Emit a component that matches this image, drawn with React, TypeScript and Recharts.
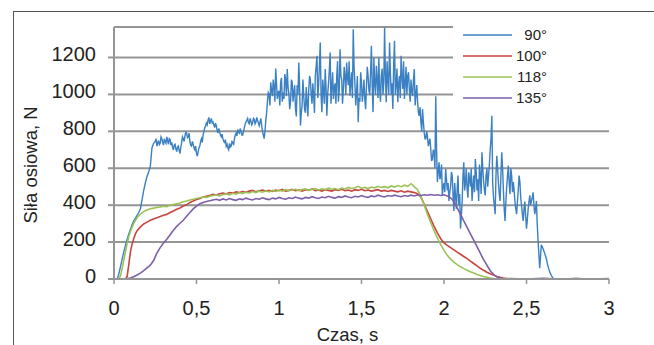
import React from 'react';
import { LineChart, Line, XAxis, YAxis, CartesianGrid, Legend } from 'recharts';

const FONT = '"Liberation Sans", Arial, sans-serif';

const xTicks = [0, 0.5, 1, 1.5, 2, 2.5, 3];
const yTicks = [0, 200, 400, 600, 800, 1000, 1200];
const seriesNames = ['90°', '100°', '118°', '135°'];
const seriesColors = ['#3a80c3', '#c9433f', '#9cc255', '#7d60a8'];

// 90° — time [s], axial force [N], read at 0.01 s
const blue90: [number, number][] = [
  [0, 0], [0.01, 0], [0.02, 0], [0.03, 30], [0.04, 70], [0.05, 110], [0.06, 150], [0.07, 185], [0.08, 215], [0.09, 245],
  [0.1, 270], [0.11, 295], [0.12, 315], [0.13, 330], [0.14, 345], [0.15, 360], [0.16, 380], [0.17, 430], [0.18, 480], [0.19, 520],
  [0.2, 555], [0.21, 580], [0.22, 610], [0.23, 710], [0.24, 735], [0.25, 745], [0.26, 720], [0.27, 750], [0.28, 735], [0.29, 760],
  [0.3, 725], [0.31, 745], [0.32, 770], [0.33, 730], [0.34, 755], [0.35, 740], [0.36, 700], [0.37, 730], [0.38, 690], [0.39, 720],
  [0.4, 680], [0.41, 740], [0.42, 760], [0.43, 775], [0.44, 790], [0.45, 770], [0.46, 745], [0.47, 720], [0.48, 730], [0.49, 700],
  [0.5, 680], [0.51, 690], [0.52, 720], [0.53, 760], [0.54, 780], [0.55, 820], [0.56, 845], [0.57, 860], [0.58, 840], [0.59, 870],
  [0.6, 850], [0.61, 820], [0.62, 830], [0.63, 790], [0.64, 800], [0.65, 770], [0.66, 760], [0.67, 740], [0.68, 720], [0.69, 710],
  [0.7, 735], [0.71, 720], [0.72, 740], [0.73, 760], [0.74, 790], [0.75, 810], [0.76, 790], [0.77, 800], [0.78, 780], [0.79, 820],
  [0.8, 850], [0.81, 870], [0.82, 840], [0.83, 855], [0.84, 845], [0.85, 865], [0.86, 850], [0.87, 860], [0.88, 830], [0.89, 870],
  [0.9, 800], [0.91, 760], [0.92, 860], [0.93, 960], [0.94, 1000], [0.95, 1066], [0.96, 990], [0.97, 1040], [0.98, 1140], [0.99, 975],
  [1.0, 1020], [1.01, 1066], [1.02, 960], [1.03, 975], [1.04, 1080], [1.05, 1137], [1.06, 1000], [1.07, 960], [1.08, 1066], [1.09, 1010],
  [1.1, 921], [1.11, 1050], [1.12, 1173], [1.13, 831], [1.14, 940], [1.15, 993], [1.16, 900], [1.17, 958], [1.18, 1020], [1.19, 1083],
  [1.2, 950], [1.21, 993], [1.22, 1100], [1.23, 1209], [1.24, 1050], [1.25, 1281], [1.26, 904], [1.27, 1020], [1.28, 1137], [1.29, 884],
  [1.3, 1060], [1.31, 1227], [1.32, 1040], [1.33, 975], [1.34, 1060], [1.35, 1101], [1.36, 960], [1.37, 1245], [1.38, 1080], [1.39, 1029],
  [1.4, 1100], [1.41, 1173], [1.42, 1050], [1.43, 993], [1.44, 1120], [1.45, 1353], [1.46, 1060], [1.47, 1011], [1.48, 849], [1.49, 960],
  [1.5, 1066], [1.51, 1010], [1.52, 975], [1.53, 1040], [1.54, 1101], [1.55, 1000], [1.56, 1263], [1.57, 904], [1.58, 1060], [1.59, 1155],
  [1.6, 980], [1.61, 1029], [1.62, 1100], [1.63, 1000], [1.64, 1362], [1.65, 958], [1.66, 1080], [1.67, 1281], [1.68, 1000], [1.69, 921],
  [1.7, 1290], [1.71, 1050], [1.72, 958], [1.73, 1100], [1.74, 1209], [1.75, 1030], [1.76, 975], [1.77, 1150], [1.78, 1100], [1.79, 1028],
  [1.8, 1080], [1.81, 990], [1.82, 1137], [1.83, 1000], [1.84, 958], [1.85, 884], [1.86, 850], [1.87, 920], [1.88, 794], [1.89, 760],
  [1.9, 770], [1.91, 741], [1.92, 700], [1.93, 650], [1.94, 687], [1.95, 990], [1.96, 525], [1.97, 632], [1.98, 560], [1.99, 453],
  [2.0, 520], [2.01, 596], [2.02, 480], [2.03, 423], [2.04, 500], [2.05, 560], [2.06, 369], [2.07, 450], [2.08, 489], [2.09, 400],
  [2.1, 273], [2.11, 420], [2.12, 632], [2.13, 520], [2.14, 489], [2.15, 578], [2.16, 500], [2.17, 423], [2.18, 560], [2.19, 650],
  [2.2, 480], [2.21, 423], [2.22, 560], [2.23, 687], [2.24, 530], [2.25, 453], [2.26, 600], [2.27, 560], [2.28, 700], [2.29, 884],
  [2.3, 440], [2.31, 351], [2.32, 668], [2.33, 520], [2.34, 423], [2.35, 687], [2.36, 480], [2.37, 315], [2.38, 500], [2.39, 614],
  [2.4, 460], [2.41, 560], [2.42, 525], [2.43, 420], [2.44, 351], [2.45, 480], [2.46, 525], [2.47, 400], [2.48, 315], [2.49, 420],
  [2.5, 273], [2.51, 380], [2.52, 453], [2.53, 423], [2.54, 470], [2.55, 351], [2.56, 423], [2.57, 210], [2.58, 59], [2.59, 185],
  [2.6, 165], [2.61, 140], [2.62, 110], [2.63, 70], [2.64, 40], [2.65, 20], [2.66, 5], [2.67, 0], [2.7, 2], [2.75, 0],
  [2.8, 3], [2.85, 0], [2.9, 2], [2.95, 0], [3.0, 0],
];

// 90° — extra readings between the 0.01 s samples (the noisy parts)
const blue90Extra: [number, number][] = [
  [0.255, 760], [0.265, 735], [0.275, 728], [0.285, 770], [0.295, 740], [0.305, 760], [0.315, 735], [0.325, 750], [0.335, 760], [0.345, 725],
  [0.355, 715], [0.365, 725], [0.375, 705], [0.385, 715], [0.395, 695], [0.405, 715], [0.415, 770], [0.425, 745], [0.435, 795], [0.445, 765],
  [0.455, 790], [0.465, 725], [0.475, 745], [0.485, 710], [0.495, 720], [0.505, 665], [0.515, 710], [0.525, 745], [0.535, 740], [0.545, 800],
  [0.555, 830], [0.565, 835], [0.575, 875], [0.585, 855], [0.595, 845], [0.605, 835], [0.615, 845], [0.625, 805], [0.635, 815], [0.645, 780],
  [0.655, 785], [0.665, 745], [0.675, 755], [0.685, 730], [0.695, 700], [0.705, 715], [0.715, 745], [0.725, 725], [0.735, 780], [0.745, 775],
  [0.755, 795], [0.765, 815], [0.775, 780], [0.785, 800], [0.795, 840], [0.805, 860], [0.815, 845], [0.825, 870], [0.835, 835], [0.845, 870],
  [0.855, 840], [0.865, 875], [0.875, 845], [0.885, 850], [0.895, 830], [0.905, 780], [0.915, 800],
  [0.925, 900], [0.935, 1010], [0.945, 940], [0.955, 1020], [0.965, 1080], [0.975, 960], [0.985, 1060], [0.995, 1010],
  [1.005, 940], [1.015, 1090], [1.025, 1010], [1.035, 1110], [1.045, 990], [1.055, 1040], [1.065, 920], [1.075, 1080], [1.085, 960], [1.095, 1050],
  [1.105, 880], [1.115, 1000], [1.125, 1040], [1.135, 900], [1.145, 1080], [1.155, 920], [1.165, 1040], [1.175, 880], [1.185, 1100], [1.195, 1000],
  [1.205, 1060], [1.215, 900], [1.225, 1150], [1.235, 980], [1.245, 1160], [1.255, 1000], [1.265, 1080], [1.275, 950], [1.285, 1040], [1.295, 1000],
  [1.305, 1130], [1.315, 950], [1.325, 1120], [1.335, 1040], [1.345, 950], [1.355, 1180], [1.365, 1020], [1.375, 1100], [1.385, 950], [1.395, 1150],
  [1.405, 1000], [1.415, 1090], [1.425, 1180], [1.435, 1060], [1.445, 980], [1.455, 1150], [1.465, 940], [1.475, 1100], [1.485, 980], [1.495, 1120],
  [1.505, 960], [1.515, 1080], [1.525, 920], [1.535, 1150], [1.545, 1020], [1.555, 1120], [1.565, 1040], [1.575, 1200], [1.585, 1000], [1.595, 1080],
  [1.605, 1200], [1.615, 960], [1.625, 1140], [1.635, 1060], [1.645, 1100], [1.655, 1180], [1.665, 1000], [1.675, 1120], [1.685, 1060], [1.695, 1160],
  [1.705, 1000], [1.715, 1140], [1.725, 1060], [1.735, 980], [1.745, 1100], [1.755, 1180], [1.765, 1060], [1.775, 1000], [1.785, 1120], [1.795, 960],
  [1.805, 1020], [1.815, 1080], [1.825, 940], [1.835, 1050], [1.845, 900],
  [1.855, 930], [1.865, 800], [1.875, 850], [1.885, 760], [1.895, 800], [1.905, 720], [1.915, 760], [1.925, 640], [1.935, 700], [1.945, 600],
  [1.955, 700], [1.965, 580], [1.975, 540], [1.985, 620], [1.995, 500], [2.005, 470], [2.015, 540], [2.025, 520], [2.035, 470], [2.045, 580],
  [2.055, 450], [2.065, 520], [2.075, 380], [2.085, 560], [2.095, 460], [2.105, 340], [2.115, 560], [2.125, 480], [2.135, 600], [2.145, 440],
  [2.155, 540], [2.165, 600], [2.175, 500], [2.185, 470], [2.195, 580], [2.205, 540], [2.215, 620], [2.225, 460], [2.235, 600], [2.245, 480],
  [2.255, 560], [2.265, 500], [2.275, 620], [2.285, 760], [2.295, 520], [2.305, 400], [2.315, 560], [2.325, 600], [2.335, 460], [2.345, 560],
  [2.355, 600], [2.365, 380], [2.375, 420], [2.385, 560], [2.395, 520], [2.405, 600], [2.415, 470], [2.425, 480], [2.435, 380], [2.445, 420],
  [2.455, 560], [2.465, 440], [2.475, 350], [2.485, 380], [2.495, 340], [2.505, 320], [2.515, 420], [2.525, 400], [2.535, 440], [2.545, 400],
  [2.555, 380], [2.565, 300],
];

// 100°
const red100: [number, number][] = [
  [0, 0], [0.07, 0], [0.08, 15], [0.09, 80], [0.1, 150], [0.11, 190], [0.12, 220], [0.13, 245], [0.14, 262], [0.16, 282],
  [0.18, 298], [0.2, 308], [0.22, 318], [0.24, 325], [0.26, 332], [0.28, 338], [0.3, 345], [0.32, 350], [0.34, 360], [0.36, 368],
  [0.38, 378], [0.4, 385], [0.42, 395], [0.44, 402], [0.46, 415], [0.48, 422], [0.5, 430], [0.52, 436], [0.54, 444], [0.56, 448],
  [0.58, 452], [0.6, 458], [0.62, 455], [0.64, 462], [0.66, 466], [0.68, 460], [0.7, 468], [0.72, 465], [0.74, 472], [0.76, 468],
  [0.78, 474], [0.8, 470], [0.82, 476], [0.84, 480], [0.86, 472], [0.88, 478], [0.9, 482], [0.92, 476], [0.94, 480], [0.96, 474],
  [0.98, 482], [1.0, 478], [1.02, 485], [1.04, 476], [1.06, 480], [1.08, 486], [1.1, 478], [1.12, 482], [1.14, 476], [1.16, 484],
  [1.18, 480], [1.2, 488], [1.22, 478], [1.24, 482], [1.26, 476], [1.28, 484], [1.3, 480], [1.32, 476], [1.34, 484], [1.36, 480],
  [1.38, 486], [1.4, 478], [1.42, 482], [1.44, 476], [1.46, 484], [1.48, 480], [1.5, 486], [1.52, 478], [1.54, 482], [1.56, 476],
  [1.58, 480], [1.6, 484], [1.62, 476], [1.64, 480], [1.66, 474], [1.68, 480], [1.7, 476], [1.72, 472], [1.74, 478], [1.76, 470],
  [1.78, 476], [1.8, 472], [1.82, 468], [1.84, 462], [1.86, 445], [1.88, 405], [1.9, 365], [1.92, 325], [1.94, 285], [1.96, 250],
  [1.98, 218], [2.0, 196], [2.02, 182], [2.04, 170], [2.06, 158], [2.08, 146], [2.1, 134], [2.12, 122], [2.14, 110], [2.16, 97],
  [2.18, 84], [2.2, 71], [2.22, 58], [2.24, 47], [2.26, 37], [2.28, 28], [2.3, 21], [2.32, 14], [2.34, 9], [2.36, 5],
  [2.38, 3], [2.4, 0], [2.5, 0],
];

// 118°
const green118: [number, number][] = [
  [0, 0], [0.03, 0], [0.04, 20], [0.05, 60], [0.06, 105], [0.07, 150], [0.08, 195], [0.09, 230], [0.1, 258], [0.11, 282],
  [0.12, 302], [0.13, 318], [0.14, 332], [0.16, 352], [0.18, 365], [0.2, 374], [0.22, 381], [0.24, 384], [0.26, 388], [0.28, 390],
  [0.3, 394], [0.32, 392], [0.34, 400], [0.36, 404], [0.38, 408], [0.4, 412], [0.42, 418], [0.44, 422], [0.46, 428], [0.48, 432],
  [0.5, 436], [0.52, 440], [0.54, 444], [0.56, 442], [0.58, 448], [0.6, 452], [0.62, 456], [0.64, 450], [0.66, 458], [0.68, 462],
  [0.7, 456], [0.72, 464], [0.74, 460], [0.76, 468], [0.78, 464], [0.8, 470], [0.82, 466], [0.84, 474], [0.86, 468], [0.88, 476],
  [0.9, 470], [0.92, 478], [0.94, 472], [0.96, 480], [0.98, 474], [1.0, 482], [1.02, 476], [1.04, 484], [1.06, 478], [1.08, 482],
  [1.1, 486], [1.12, 478], [1.14, 484], [1.16, 488], [1.18, 480], [1.2, 486], [1.22, 490], [1.24, 482], [1.26, 488], [1.28, 484],
  [1.3, 492], [1.32, 486], [1.34, 490], [1.36, 484], [1.38, 492], [1.4, 488], [1.42, 496], [1.44, 490], [1.46, 494], [1.48, 502],
  [1.5, 492], [1.52, 496], [1.54, 490], [1.56, 498], [1.58, 494], [1.6, 502], [1.62, 496], [1.64, 500], [1.66, 494], [1.68, 504],
  [1.7, 498], [1.72, 506], [1.74, 500], [1.76, 508], [1.78, 502], [1.8, 516], [1.82, 500], [1.84, 484], [1.86, 448], [1.88, 400],
  [1.9, 350], [1.92, 305], [1.94, 262], [1.96, 222], [1.98, 186], [2.0, 155], [2.02, 128], [2.04, 108], [2.06, 92], [2.08, 78],
  [2.1, 66], [2.12, 56], [2.14, 47], [2.16, 39], [2.18, 32], [2.2, 25], [2.22, 19], [2.24, 13], [2.26, 9], [2.28, 5],
  [2.3, 2], [2.32, 0], [2.4, 0],
];

// 135°
const purple135: [number, number][] = [
  [0, 0], [0.05, 0], [0.08, 2], [0.1, 5], [0.12, 12], [0.14, 22], [0.16, 32], [0.18, 45], [0.2, 60], [0.22, 75],
  [0.24, 100], [0.26, 140], [0.28, 170], [0.3, 195], [0.32, 215], [0.34, 240], [0.36, 264], [0.38, 285], [0.4, 302], [0.42, 318],
  [0.44, 340], [0.46, 360], [0.48, 380], [0.5, 395], [0.52, 408], [0.54, 415], [0.56, 420], [0.58, 424], [0.6, 428], [0.62, 432],
  [0.64, 426], [0.66, 434], [0.68, 428], [0.7, 436], [0.72, 430], [0.74, 426], [0.76, 434], [0.78, 430], [0.8, 438], [0.82, 432],
  [0.84, 428], [0.86, 436], [0.88, 432], [0.9, 440], [0.92, 434], [0.94, 430], [0.96, 438], [0.98, 434], [1.0, 442], [1.02, 436],
  [1.04, 432], [1.06, 440], [1.08, 436], [1.1, 444], [1.12, 438], [1.14, 434], [1.16, 442], [1.18, 438], [1.2, 446], [1.22, 440],
  [1.24, 436], [1.26, 444], [1.28, 440], [1.3, 448], [1.32, 442], [1.34, 438], [1.36, 446], [1.38, 442], [1.4, 450], [1.42, 444],
  [1.44, 440], [1.46, 448], [1.48, 444], [1.5, 452], [1.52, 446], [1.54, 442], [1.56, 450], [1.58, 446], [1.6, 454], [1.62, 448],
  [1.64, 444], [1.66, 452], [1.68, 448], [1.7, 454], [1.72, 450], [1.74, 446], [1.76, 452], [1.78, 448], [1.8, 454], [1.82, 450],
  [1.84, 456], [1.86, 452], [1.88, 456], [1.9, 454], [1.92, 458], [1.94, 454], [1.96, 456], [1.98, 452], [2.0, 456], [2.02, 450],
  [2.04, 440], [2.06, 420], [2.08, 385], [2.1, 350], [2.12, 315], [2.14, 280], [2.16, 245], [2.18, 210], [2.2, 175], [2.22, 140],
  [2.24, 105], [2.26, 75], [2.28, 45], [2.3, 25], [2.32, 12], [2.34, 5], [2.36, 0], [2.4, 3], [2.5, 0], [2.6, 4],
  [2.7, 0], [2.8, 3], [2.9, 0], [3.0, 2],
];

const toRows = (arr: [number, number][]) =>
  [...arr].sort((a, b) => a[0] - b[0]).map(([t, v]) => ({ t, v }));
const seriesData = [[...blue90, ...blue90Extra], red100, green118, purple135].map(toRows);

const fmtX = (v: number) => String(v).replace('.', ',');

const YTick = (props: any) => {
  const { x, y, payload } = props;
  return (
    <text x={x} y={y} dy={4} textAnchor="end" fontSize={20} fill="#222" fontFamily={FONT}>
      {payload.value}
    </text>
  );
};

const XTick = (props: any) => {
  const { x, y, payload } = props;
  return (
    <text x={x} y={y} dy={31} textAnchor="middle" fontSize={20} fill="#222" fontFamily={FONT}>
      {fmtX(payload.value)}
    </text>
  );
};

const LegendBox = (props: any) => {
  const payload = [...(props.payload || [])].sort(
    (a: any, b: any) => seriesNames.indexOf(String(a.value)) - seriesNames.indexOf(String(b.value)),
  );
  return (
    <div style={{ position: 'relative', width: 160, height: 86, background: '#fff' }}>
      {payload.map((p: any, i: number) => (
        <div key={String(p.value)} style={{ position: 'absolute', left: 0, top: 4 + i * 21, width: 100, height: 22 }}>
          <svg width={60} height={22} style={{ position: 'absolute', left: 0, top: 0 }}>
            <line x1={10} x2={59} y1={11} y2={11} stroke={p.color} strokeWidth={1.5} />
          </svg>
          <span
            style={{
              position: 'absolute',
              right: 6,
              top: 0,
              lineHeight: '22px',
              fontSize: 15,
              color: '#222',
              fontFamily: FONT,
            }}
          >
            {p.value}
          </span>
        </div>
      ))}
    </div>
  );
};

const AXIS = '#959595';

export default function App() {
  return (
    <div style={{ position: 'absolute', left: 0, top: 0, width: 654, height: 345, overflow: 'hidden', background: '#fff' }}>
      <div
        style={{
          position: 'absolute',
          left: 13,
          top: 11,
          width: 700,
          height: 400,
          borderTop: '1.5px solid #555',
          borderLeft: '1.5px solid #555',
        }}
      />
      <div style={{ position: 'absolute', left: 0, top: 0 }}>
        <LineChart width={654} height={345} margin={{ top: 27, right: 45, bottom: 16, left: 0 }}>
          <CartesianGrid horizontal vertical={false} stroke={AXIS} strokeWidth={2} />
          <XAxis
            dataKey="t"
            type="number"
            domain={[0, 3]}
            ticks={xTicks}
            height={50}
            tickSize={5}
            tickMargin={0}
            tick={<XTick />}
            stroke={AXIS}
            axisLine={{ stroke: AXIS, strokeWidth: 2 }}
            tickLine={{ stroke: AXIS, strokeWidth: 1.5 }}
            allowDataOverflow
            label={{
              content: (p: any) => {
                const vb = p.viewBox || { x: 114, y: 279, width: 495 };
                return (
                  <text x={vb.x + vb.width / 2 - 14} y={vb.y + 62} textAnchor="middle" fontSize={18.5} fill="#222" fontFamily={FONT}>
                    Czas, s
                  </text>
                );
              },
            }}
          />
          <YAxis
            type="number"
            domain={[0, 1365]}
            ticks={yTicks}
            width={114}
            tickSize={6}
            tickMargin={12}
            tick={<YTick />}
            stroke={AXIS}
            axisLine={{ stroke: AXIS, strokeWidth: 2 }}
            tickLine={{ stroke: AXIS, strokeWidth: 2 }}
            allowDataOverflow
            label={{
              content: (p: any) => {
                const vb = p.viewBox || { x: 0, y: 27, height: 252 };
                const cx = vb.x + 37;
                const cy = vb.y + vb.height / 2 + 12;
                return (
                  <text
                    x={cx}
                    y={cy}
                    transform={`rotate(-90, ${cx}, ${cy})`}
                    textAnchor="middle"
                    fontSize={18.5}
                    fill="#222"
                    fontFamily={FONT}
                  >
                    Siła osiowa, N
                  </text>
                );
              },
            }}
          />
          <Legend
            layout="vertical"
            align="center"
            verticalAlign="middle"
            content={<LegendBox />}
            wrapperStyle={{ left: 453, top: 20, width: 160, height: 86 }}
          />
          {seriesData.map((d, i) => (
            <Line
              key={seriesNames[i]}
              data={d}
              dataKey="v"
              name={seriesNames[i]}
              type="linear"
              stroke={seriesColors[i]}
              strokeWidth={i === 0 ? 1.4 : 1.6}
              dot={false}
              activeDot={false}
              isAnimationActive={false}
            />
          ))}
        </LineChart>
      </div>
    </div>
  );
}
